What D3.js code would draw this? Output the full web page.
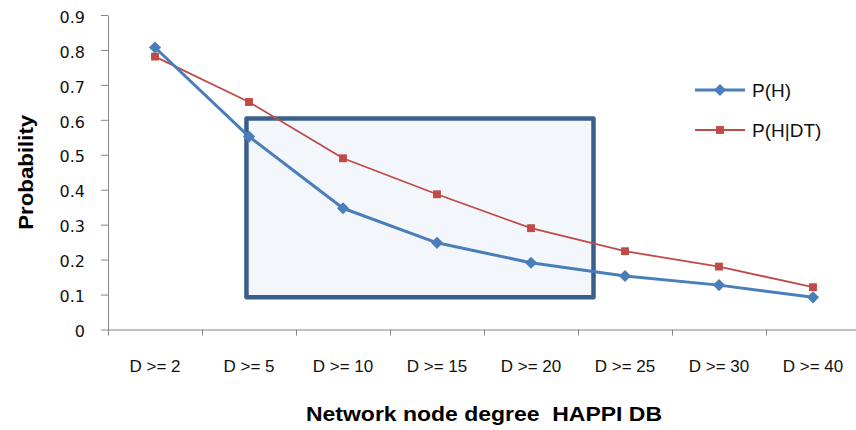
<!DOCTYPE html>
<html>
<head>
<meta charset="utf-8">
<script src="https://cdn.jsdelivr.net/npm/d3@7"></script>
<style>
  html, body { margin: 0; padding: 0; background: #fff; }
  svg { display: block; }
</style>
</head>
<body>
<div id="chart"></div>
<script>
// Degree thresholds along the x axis
const categories = ["D >= 2", "D >= 5", "D >= 10", "D >= 15", "D >= 20", "D >= 25", "D >= 30", "D >= 40"];
// Probability series
const pH   = [0.807, 0.552, 0.347, 0.248, 0.191, 0.153, 0.127, 0.092];
const pHDT = [0.781, 0.651, 0.490, 0.387, 0.290, 0.224, 0.180, 0.121];
const seriesNames = ["P(H)", "P(H|DT)"];
// Y axis ticks
const yTicks = [0, 0.1, 0.2, 0.3, 0.4, 0.5, 0.6, 0.7, 0.8, 0.9];
// Highlight box, in category units (x) and probability (y)
const boxX = [1.473, 5.165];
const boxY = [0.092, 0.604];

const W = 856, H = 430;
const margin = { top: 15, right: -4, bottom: 100.5, left: 108 };
const iw = W - margin.left - margin.right;
const ih = H - margin.top - margin.bottom;

const svg = d3.select("#chart").append("svg")
  .attr("width", W).attr("height", H);

const g = svg.append("g").attr("transform", `translate(${margin.left},${margin.top})`);

const x = d3.scaleBand().domain(categories).range([0, iw]).padding(0);
const xc = d3.scaleLinear().domain([0, categories.length]).range([0, iw]);
const y = d3.scaleLinear().domain([0, 0.9]).range([ih, 0]);

const axisColor = "#868686";

// Highlight rectangle (behind the series)
g.append("rect")
  .attr("x", xc(boxX[0]))
  .attr("y", y(boxY[1]))
  .attr("width", xc(boxX[1]) - xc(boxX[0]))
  .attr("height", y(boxY[0]) - y(boxY[1]))
  .attr("fill", "#f3f6fa")
  .attr("stroke", "#3b5f8d")
  .attr("stroke-width", 4.5)
  .attr("stroke-linejoin", "round");

// Y axis
const yAxis = g.append("g")
  .call(d3.axisLeft(y).tickValues(yTicks).tickSize(7).tickSizeOuter(0).tickPadding(16)
    .tickFormat(d => d === 0 ? "0" : d3.format(".1f")(d)));
yAxis.select(".domain").attr("stroke", axisColor);
yAxis.selectAll(".tick line").attr("stroke", axisColor);
yAxis.selectAll(".tick text")
  .attr("font-family", "'DejaVu Sans', sans-serif")
  .attr("font-size", 16)
  .attr("fill", "#111")
  .attr("dy", "0.45em");

// X axis: boundary ticks between categories
const xTickAxis = g.append("g").attr("transform", `translate(0,${ih})`)
  .call(d3.axisBottom(xc).tickValues(d3.range(categories.length + 1)).tickSize(6).tickSizeOuter(0).tickFormat(""));
xTickAxis.select(".domain").attr("stroke", axisColor);
xTickAxis.selectAll(".tick line").attr("stroke", axisColor);

// X axis: category labels centred in each band
const xLabelAxis = g.append("g").attr("transform", `translate(0,${ih})`)
  .call(d3.axisBottom(x).tickSize(0).tickSizeOuter(0));
xLabelAxis.select(".domain").remove();
xLabelAxis.selectAll(".tick text")
  .attr("font-family", "'Liberation Sans', Arial, sans-serif")
  .attr("font-size", 17)
  .attr("fill", "#111")
  .attr("y", 42.5)
  .attr("dy", 0);

// Axis titles
svg.append("text")
  .attr("x", margin.left + xc(categories.length / 2))
  .attr("y", 421)
  .attr("text-anchor", "middle")
  .attr("font-family", "'Liberation Sans', Arial, sans-serif")
  .attr("font-weight", "bold")
  .attr("font-size", 21)
  .attr("fill", "#000")
  .attr("textLength", 356)
  .attr("lengthAdjust", "spacingAndGlyphs")
  .style("white-space", "pre")
  .text("Network node degree  HAPPI DB");

svg.append("text")
  .attr("transform", `translate(33,${margin.top + ih / 2}) rotate(-90)`)
  .attr("text-anchor", "middle")
  .attr("font-family", "'Liberation Sans', Arial, sans-serif")
  .attr("font-weight", "bold")
  .attr("font-size", 21)
  .attr("fill", "#000")
  .attr("textLength", 115)
  .attr("lengthAdjust", "spacingAndGlyphs")
  .text("Probability");

// Series
const cx = (c) => x(c) + x.bandwidth() / 2;
const series = [
  { name: seriesNames[0], values: pH,   color: "#4a7ebb", width: 3,   symbol: "diamond" },
  { name: seriesNames[1], values: pHDT, color: "#be4b48", width: 1.8, symbol: "square" }
];

const line = d3.line().x((d, i) => cx(categories[i])).y(d => y(d));

function markerPath(s) {
  return s.symbol === "diamond"
    ? d3.symbol(d3.symbolSquare, 74)()
    : d3.symbol(d3.symbolSquare, 62)();
}
function markerTransform(s, px, py) {
  return s.symbol === "diamond" ? `translate(${px},${py}) rotate(45)` : `translate(${px},${py})`;
}

// Red series first so the blue one sits on top
[series[1], series[0]].forEach(s => {
  g.append("path")
    .datum(s.values)
    .attr("fill", "none")
    .attr("stroke", s.color)
    .attr("stroke-width", s.width)
    .attr("stroke-linejoin", "round")
    .attr("d", line);
  g.selectAll(null)
    .data(s.values)
    .enter().append("path")
    .attr("d", markerPath(s))
    .attr("transform", (d, i) => markerTransform(s, cx(categories[i]), y(d)))
    .attr("fill", s.color);
});

// Legend
const legend = svg.append("g").attr("transform", "translate(695,90)");
series.forEach((s, i) => {
  const row = legend.append("g").attr("transform", `translate(0,${i * 40})`);
  row.append("line")
    .attr("x1", 0).attr("x2", 50).attr("y1", 0).attr("y2", 0)
    .attr("stroke", s.color).attr("stroke-width", s.width);
  row.append("path")
    .attr("d", markerPath(s))
    .attr("transform", markerTransform(s, 25, 0))
    .attr("fill", s.color);
  row.append("text")
    .attr("x", 57).attr("y", 7)
    .attr("font-family", "'Liberation Sans', Arial, sans-serif")
    .attr("font-size", 19)
    .attr("fill", "#111")
    .text(s.name);
});
</script>
</body>
</html>
